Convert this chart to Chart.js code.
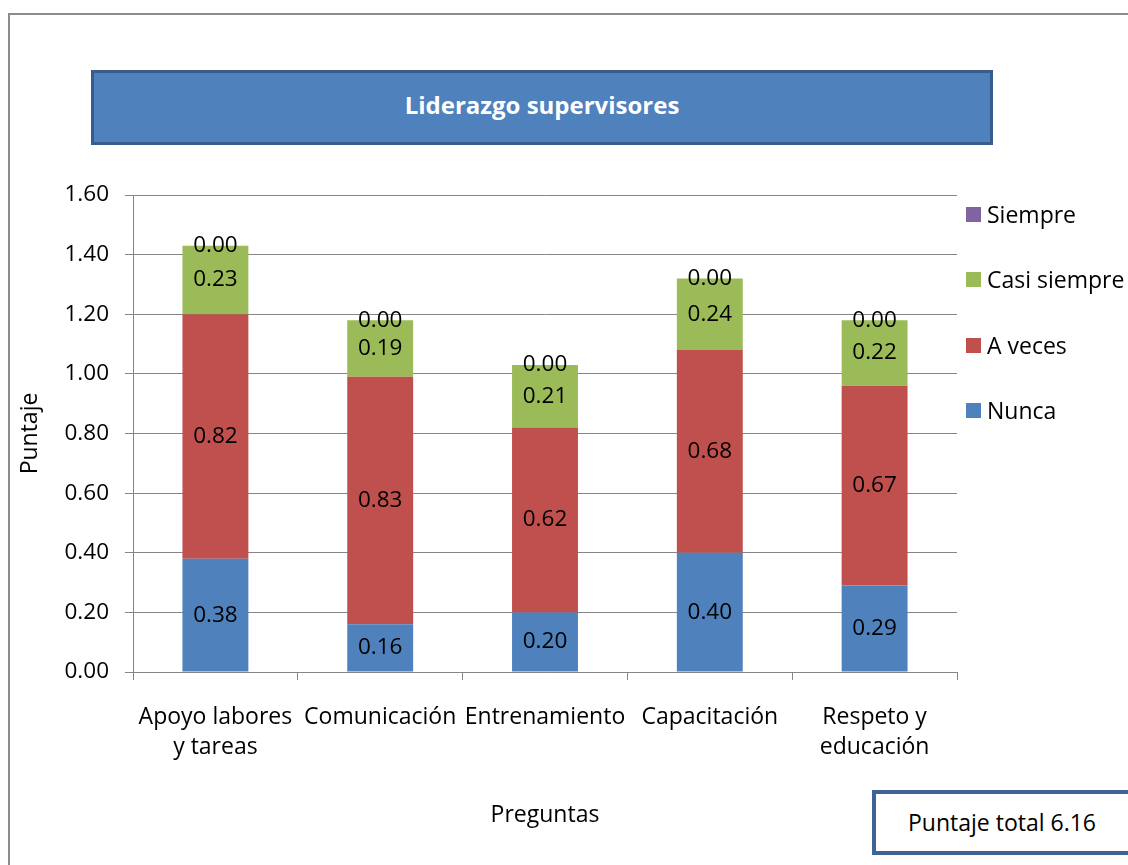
<!DOCTYPE html>
<html>
<head>
<meta charset="utf-8">
<script src="https://cdn.jsdelivr.net/npm/chart.js@4.4.1/dist/chart.umd.min.js"></script>
<style>
  body { margin: 0; background: #fff; font-family: "Open Sans", sans-serif; }
  #wrap { position: relative; width: 1128px; height: 865px; overflow: hidden; }
  #frame { position: absolute; left: 8px; top: 13px; width: 1200px; height: 900px; border: 2px solid #8c8c8c; }
  #chart { position: absolute; left: 0; top: 0; }
  #titleBox { position: absolute; left: 91px; top: 70px; width: 896px; height: 69px; background: #4f81bd; border: 3px solid #385d8a;
    color: #fff; font-weight: bold; font-size: 24px; text-align: center; line-height: 64px; }
  #totalBox { position: absolute; left: 872px; top: 790px; width: 300px; height: 57px; background: #fff; border: 4px solid #3f6396;
    font-size: 23px; line-height: 56px; }
  #totalBox span { position: absolute; left: 32px; }
  .leg { position: absolute; left: 966px; font-size: 23px; height: 30px; line-height: 30px; }
  .leg i { position: absolute; left: 0; top: 8px; width: 15px; height: 15px; }
  .leg span { position: absolute; left: 21px; white-space: nowrap; }
</style>
</head>
<body>
<div id="wrap">
  <div id="frame"></div>
  <canvas id="chart" width="1128" height="865"></canvas>
  <div id="titleBox">Liderazgo supervisores</div>
  <div id="legend"></div>
  <div id="totalBox"><span>Puntaje total 6.16</span></div>
</div>
<script>
var categorias = [["Apoyo labores", "y tareas"], "Comunicación", "Entrenamiento", "Capacitación", ["Respeto y", "educación"]];
var nunca = [0.38, 0.16, 0.20, 0.40, 0.29];
var aVeces = [0.82, 0.83, 0.62, 0.68, 0.67];
var casiSiempre = [0.23, 0.19, 0.21, 0.24, 0.22];
var siempre = [0.00, 0.00, 0.00, 0.00, 0.00];
var yTicks = [0, 0.2, 0.4, 0.6, 0.8, 1.0, 1.2, 1.4, 1.6];

var fuente = "'Open Sans', sans-serif";
var gris = "#868686";

var series = [
  { label: "Nunca", data: nunca, color: "#4f81bd" },
  { label: "A veces", data: aVeces, color: "#c0504d" },
  { label: "Casi siempre", data: casiSiempre, color: "#9bbb59" },
  { label: "Siempre", data: siempre, color: "#8064a2" }
];

// leyenda a la derecha, en orden inverso como en Excel
var legendHtml = "";
series.slice().reverse().forEach(function (s, i) {
  legendHtml += '<div class="leg" style="top:' + (199 + i * 65.3) + 'px"><i style="background:' + s.color + '"></i><span>' + s.label + '</span></div>';
});
document.getElementById("legend").innerHTML = legendHtml;

// etiquetas de valor centradas en cada segmento
var etiquetas = {
  id: "etiquetas",
  afterDatasetsDraw: function (chart) {
    var ctx = chart.ctx;
    ctx.save();
    ctx.font = "22.5px " + fuente;
    ctx.fillStyle = "#000";
    ctx.textAlign = "center";
    ctx.textBaseline = "middle";
    chart.data.datasets.forEach(function (ds, i) {
      chart.getDatasetMeta(i).data.forEach(function (bar, j) {
        var p = bar.getProps(["x", "y", "base"], true);
        ctx.fillText(ds.data[j].toFixed(2), p.x, (p.y + p.base) / 2);
      });
    });
    ctx.restore();
  }
};

new Chart(document.getElementById("chart"), {
  type: "bar",
  data: {
    labels: categorias,
    datasets: series.map(function (s) {
      return { label: s.label, data: s.data, backgroundColor: s.color, barPercentage: 0.4, categoryPercentage: 1 };
    })
  },
  options: {
    responsive: false,
    animation: false,
    events: [],
    layout: { padding: { left: 0, top: 195, right: 171, bottom: 0 } },
    plugins: { legend: { display: false }, tooltip: { enabled: false } },
    scales: {
      x: {
        stacked: true,
        afterFit: function (s) { s.height = 193; },
        grid: { drawOnChartArea: false, drawTicks: true, tickLength: 8, color: gris, offset: true },
        border: { color: gris, width: 1 },
        ticks: { color: "#000", font: { family: fuente, size: 23, lineHeight: 1.3 }, padding: 23, maxRotation: 0, autoSkip: false },
        title: { display: true, text: "Preguntas", color: "#000", font: { family: fuente, size: 23 }, padding: { top: 0, bottom: 36 } }
      },
      y: {
        stacked: true,
        min: 0,
        max: 1.6,
        afterFit: function (s) { s.width = 133; },
        afterBuildTicks: function (s) { s.ticks = yTicks.map(function (v) { return { value: v }; }); },
        grid: { color: gris, lineWidth: 1, tickLength: 8 },
        border: { color: gris, width: 1 },
        ticks: { color: "#000", font: { family: fuente, size: 22.5 }, padding: 16, callback: function (v) { return Number(v).toFixed(2); } },
        title: { display: true, text: "Puntaje", color: "#000", font: { family: fuente, size: 23 }, padding: { top: 17, bottom: 0 } }
      }
    }
  },
  plugins: [etiquetas]
});
</script>
</body>
</html>
